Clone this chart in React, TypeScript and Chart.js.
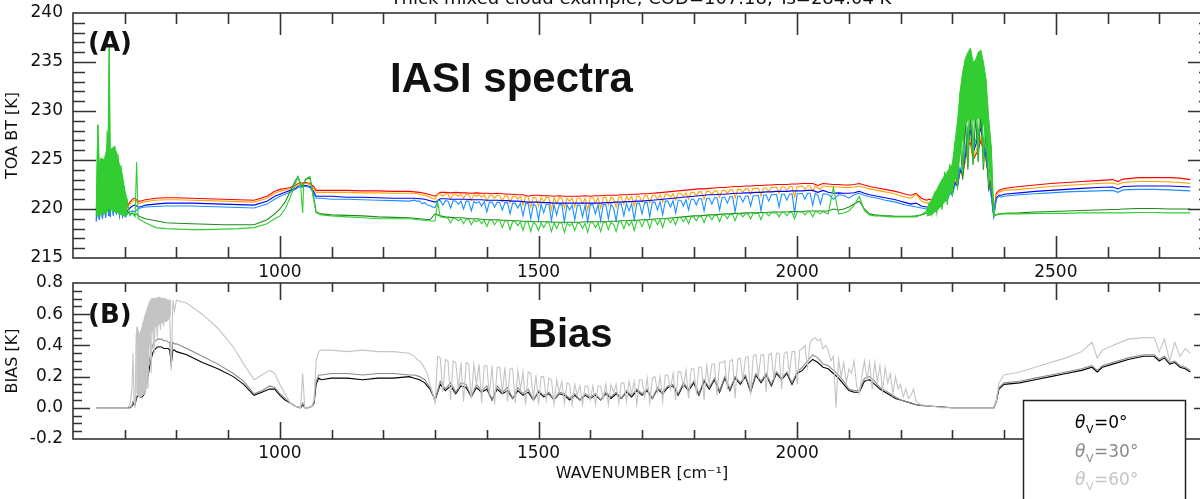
import React, { useEffect, useRef } from "react";
import { Chart, registerables } from "chart.js";
Chart.register(...registerables);

// ---------- Panel A: TOA brightness temperature spectra ----------
// coarse grid (smooth series)
const WN_A = [
  645,648,651,654,657,660,663,666,669,670,672,675,678,681,684,687,690,693,696,699,702,705,710,715,720,723,726,730,
  740,760,780,800,830,860,890,920,950,975,990,1000,1010,1020,1030,1035,1040,1044,1046,1050,1058,1065,1070,
  1080,1100,1130,1160,1190,1220,1250,
  1260,1270,1280,1290,1300,1310,1320,1330,1340,1350,
  1360,1370,1380,1390,1400,1410,1420,1430,1440,1450,
  1460,1470,1480,1490,1500,1510,1520,1530,1540,1550,
  1560,1570,1580,1590,1600,1610,1620,1630,1640,1650,
  1660,1670,1680,1690,1700,1710,1720,1730,1740,1750,
  1760,1770,1780,1790,1800,1810,1820,1830,1840,1850,
  1860,1870,1880,1890,1900,1910,1920,1930,1940,1950,
  1960,1970,1980,1990,2000,2010,2020,2030,2040,2050,
  2060,2070,2080,2090,2100,2110,2120,2130,2140,2150,2160,2170,2180,2190,2200,2210,2220,2230,2240,2250,
  2255,2260,2265,2270,2275,2280,2285,2290,2295,2300,2305,2310,2315,2320,2325,2330,2335,2340,2345,2350,2355,2360,2365,2370,2375,2380,2385,2390,
  2395,2400,2430,2460,2490,2520,2550,2580,2610,2620,2630,2660,2690,2720,2740,2760,
];

// fine grid (spiky series)
const WN_A_FINE = [
  645,648,651,654,657,660,663,666,669,670,672,675,678,681,684,687,690,693,696,699,702,705,710,715,720,723,726,730,
  740,760,780,800,830,860,890,920,950,975,990,1000,1010,1020,1030,1035,1040,1044,1046,1050,1058,1065,1070,
  1080,1100,1130,1160,1190,1220,1250,
  1260,1265,1270,1275,1280,1285,1290,1295,1300,1305,
  1310,1315,1320,1325,1330,1335,1340,1345,1350,1355,
  1360,1365,1370,1375,1380,1385,1390,1395,1400,1405,
  1410,1415,1420,1425,1430,1435,1440,1445,1450,1455,
  1460,1465,1470,1475,1480,1485,1490,1495,1500,1505,
  1510,1515,1520,1525,1530,1535,1540,1545,1550,1555,
  1560,1565,1570,1575,1580,1585,1590,1595,1600,1605,
  1610,1615,1620,1625,1630,1635,1640,1645,1650,1655,
  1660,1665,1670,1675,1680,1685,1690,1695,1700,1705,
  1710,1715,1720,1725,1730,1735,1740,1745,1750,1755,
  1760,1765,1770,1775,1780,1785,1790,1795,1800,1805,
  1810,1815,1820,1825,1830,1835,1840,1845,1850,1855,
  1860,1865,1870,1875,1880,1885,1890,1895,1900,1905,
  1910,1915,1920,1925,1930,1935,1940,1945,1950,1955,
  1960,1965,1970,1975,1980,1985,1990,1995,2000,2005,
  2010,2015,2020,2025,2030,2035,2040,2045,2050,
  2060,2070,2080,2090,2100,2110,2120,2130,2140,2150,2160,2170,2180,2190,2200,2210,2220,2230,2240,2250,
  2255,2260,2265,2270,2275,2280,2285,2290,2295,2300,2305,2310,2315,2320,2325,2330,2335,2340,2345,2350,2355,2360,2365,2370,2375,2380,2385,2390,
  2395,2400,2430,2460,2490,2520,2550,2580,2610,2620,2630,2660,2690,2720,2740,2760,
];

const BT_RED = [
  219.0,221.5,219.3,222.0,219.4,222.3,219.5,222.5,219.7,223.0,219.6,222.8,219.8,222.5,220.0,222.0,219.8,221.3,219.7,220.6,219.6,220.3,220.7,221.0,221.1,220.9,220.8,220.8,
  220.95,221.1,221.15,221.15,221.1,221.05,221.0,220.95,220.9,221.3,221.8,222.0,222.1,222.2,222.4,222.6,222.7,222.6,222.7,222.7,222.6,222.3,221.9,
  221.9,221.9,221.9,221.85,221.85,221.8,221.8,
  221.75,221.7,221.6,221.45,221.3,221.7,221.7,221.65,221.7,221.65,
  221.65,221.6,221.65,221.6,221.6,221.55,221.6,221.55,221.5,221.5,
  221.45,221.45,221.3,221.4,221.4,221.35,221.35,221.3,221.35,221.3,
  221.3,221.3,221.3,221.35,221.3,221.35,221.35,221.4,221.4,221.4,
  221.45,221.45,221.5,221.5,221.55,221.55,221.6,221.65,221.7,221.75,
  221.8,221.85,221.9,221.95,222.0,222.05,222.05,222.1,222.15,222.2,
  222.2,222.25,222.3,222.3,222.35,222.35,222.4,222.4,222.45,222.45,
  222.5,222.5,222.5,222.55,222.55,222.6,222.6,222.6,222.4,222.6,
  222.55,222.5,222.5,222.45,222.45,222.5,222.6,222.45,222.3,222.2,222.1,222.0,221.9,221.8,221.65,221.5,221.4,221.6,221.1,220.9,
  221.0,220.9,221.2,221.0,221.5,221.3,221.8,221.6,222.2,222.0,222.8,222.6,224.0,223.5,225.0,226.5,226.8,225.0,225.5,226.0,227.0,226.0,225.0,223.5,222.0,219.6,221.6,221.9,
  222.0,222.1,222.3,222.45,222.6,222.7,222.8,222.9,223.0,222.8,223.05,223.2,223.2,223.2,223.15,223.0,
];

const BT_BLUE = [
  218.8,220.8,218.9,221.2,219.0,221.5,219.1,221.8,219.3,222.3,219.2,222.0,219.4,221.8,219.5,221.2,219.4,220.6,219.3,220.0,219.3,219.8,220.1,220.3,220.4,220.3,220.2,220.2,
  220.4,220.5,220.6,220.6,220.6,220.55,220.5,220.45,220.4,220.8,221.3,221.5,221.7,221.9,222.1,222.3,222.4,222.3,222.4,222.4,222.3,221.8,221.3,
  221.3,221.3,221.2,221.2,221.15,221.1,221.1,
  221.1,221.05,221.0,220.85,220.7,221.05,221.05,221.0,221.0,221.0,
  221.0,220.95,220.95,220.95,220.9,220.9,220.9,220.85,220.85,220.8,
  220.8,220.75,220.7,220.7,220.7,220.65,220.65,220.6,220.6,220.6,
  220.6,220.6,220.6,220.6,220.6,220.6,220.6,220.65,220.65,220.7,
  220.7,220.75,220.75,220.8,220.8,220.85,220.9,220.95,221.0,221.05,
  221.1,221.15,221.2,221.25,221.3,221.35,221.4,221.45,221.45,221.5,
  221.5,221.55,221.6,221.6,221.65,221.65,221.7,221.7,221.75,221.75,
  221.8,221.8,221.8,221.85,221.85,221.85,221.9,221.9,221.7,221.9,
  221.7,221.6,221.65,221.6,221.6,221.65,221.8,221.6,221.45,221.35,221.25,221.15,221.05,220.95,220.8,220.65,220.5,220.6,220.3,220.2,
  220.1,220.0,220.3,220.2,220.7,220.5,221.2,221.0,221.8,221.6,222.6,222.4,224.0,223.5,225.5,227.8,228.0,225.8,226.5,227.5,228.2,226.8,225.5,223.0,221.5,219.3,221.1,221.4,
  221.4,221.5,221.65,221.8,221.9,222.0,222.1,222.2,222.25,222.05,222.3,222.35,222.35,222.35,222.3,222.25,
];

const BT_DARKGREEN = [
  219.3,222.0,219.5,222.5,219.6,222.8,219.6,223.0,219.8,224.0,219.7,223.5,219.8,223.0,219.9,222.5,219.8,221.5,219.7,220.8,219.5,219.8,219.5,219.6,219.4,219.5,219.3,219.2,
  219.0,218.8,218.6,218.55,218.5,218.45,218.4,218.4,218.4,218.9,219.5,220.0,220.7,221.8,222.9,223.3,222.5,222.3,222.6,223.0,223.2,221.3,219.7,
  219.5,219.4,219.35,219.3,219.2,219.15,219.1,
  219.05,219.0,218.95,218.9,219.5,219.3,219.2,219.15,219.1,219.1,
  219.05,219.0,219.0,218.95,218.9,218.9,218.9,218.85,218.85,218.8,
  218.8,218.75,218.75,218.7,218.7,218.7,218.7,218.65,218.65,218.65,
  218.65,218.65,218.65,218.7,218.7,218.7,218.7,218.7,218.75,218.75,
  218.8,218.8,218.85,218.85,218.9,218.9,218.95,219.0,219.0,219.05,
  219.1,219.15,219.2,219.25,219.3,219.3,219.35,219.4,219.4,219.45,
  219.5,219.5,219.55,219.55,219.6,219.6,219.6,219.65,219.65,219.7,
  219.7,219.7,219.7,219.75,219.75,219.75,219.8,219.8,219.8,219.8,
  219.8,220.0,219.9,220.0,220.2,220.5,220.8,220.0,219.5,219.4,219.35,219.3,219.3,219.25,219.25,219.25,219.25,219.3,219.4,219.6,
  219.8,219.6,220.5,219.9,221.2,220.3,222.0,220.8,222.8,221.5,224.0,222.3,227.0,223.0,229.0,224.0,230.0,224.5,229.5,224.8,230.0,224.0,228.0,222.0,223.0,219.3,219.4,219.5,
  219.5,219.55,219.6,219.7,219.75,219.8,219.85,219.9,219.95,219.95,220.0,220.05,220.05,220.0,220.0,220.0,
];

const BT_ORANGE = [
  218.9,221.0,219.0,221.5,219.2,221.8,219.3,222.0,219.5,222.5,219.4,222.3,219.6,222.0,219.8,221.5,219.6,220.9,219.5,220.3,219.4,220.1,220.5,220.8,220.9,220.7,220.6,220.6,
  220.75,220.9,220.95,220.95,220.9,220.85,220.8,220.75,220.7,221.1,221.6,221.8,221.95,222.1,222.3,222.5,222.6,222.5,222.6,222.6,222.5,222.1,221.7,
  221.7,221.7,221.7,221.65,221.65,221.6,221.6,
  221.6,221.55,221.5,221.4,221.45,221.3,221.2,221.1,221.0,221.5,
  221.55,221.3,221.55,221.5,221.0,221.5,221.5,221.3,221.5,221.1,
  221.5,221.45,220.9,221.45,221.3,221.45,221.2,221.45,220.8,221.4,
  221.4,221.1,221.4,221.35,220.8,221.35,221.3,220.6,221.3,221.3,
  221.0,221.3,220.4,221.25,221.25,220.2,221.2,221.1,220.3,221.2,
  220.7,221.2,221.15,219.9,221.15,220.5,221.15,221.1,220.1,221.1,
  220.8,221.1,220.2,221.1,221.1,220.5,221.1,219.9,221.15,221.15,
  220.6,221.15,220.1,221.15,221.2,220.4,221.2,221.0,220.2,221.2,
  221.25,220.5,221.25,220.9,221.3,220.3,221.3,221.3,220.7,221.35,
  221.35,220.6,221.4,221.4,221.0,221.45,220.7,221.5,221.5,221.2,
  221.55,220.9,221.6,221.6,221.3,221.65,221.0,221.7,221.7,221.4,
  221.75,221.75,221.0,221.8,221.8,221.5,221.85,221.85,221.2,221.9,
  221.9,221.6,221.95,221.95,221.1,222.0,222.0,221.7,222.05,222.05,
  221.5,222.1,222.1,222.1,221.3,222.15,222.15,221.8,222.2,222.2,
  222.25,221.6,222.25,222.25,221.9,222.3,222.3,221.2,222.3,222.3,
  222.35,222.0,222.35,222.35,221.8,222.35,222.2,222.0,222.35,
  222.3,222.25,222.25,222.2,222.2,222.25,222.35,222.2,222.05,221.95,221.85,221.75,221.65,221.5,221.35,221.2,221.1,221.5,220.8,220.6,
  220.6,220.7,220.9,220.8,221.3,221.1,221.6,221.4,222.0,221.8,222.6,222.4,223.8,223.3,225.0,226.8,227.2,225.2,225.8,226.5,227.3,226.2,225.0,223.2,221.8,219.4,221.4,221.75,
  221.8,221.9,222.0,222.15,222.3,222.4,222.5,222.6,222.65,222.5,222.7,222.8,222.8,222.75,222.7,222.6,
];

const BT_LIGHTBLUE = [
  218.7,220.3,218.9,221.0,219.0,221.3,219.1,221.8,219.3,222.5,219.2,221.8,219.3,221.5,219.4,221.0,219.3,220.4,219.2,219.8,219.2,219.5,219.7,219.8,219.7,219.9,220.0,220.1,
  220.2,220.25,220.3,220.3,220.3,220.25,220.2,220.15,220.1,220.5,221.0,221.3,221.5,221.7,222.0,222.2,222.3,222.2,222.3,222.3,222.2,221.6,221.1,
  221.1,221.0,221.0,220.95,220.9,220.85,220.8,
  220.9,220.8,220.8,220.55,220.65,220.4,220.35,220.2,220.15,220.85,
  220.85,220.4,220.85,220.8,220.1,220.85,220.8,220.5,220.8,220.0,
  220.8,220.8,219.8,220.75,220.6,220.75,220.3,220.75,219.7,220.7,
  220.7,220.2,220.7,220.65,219.9,220.65,220.65,219.5,220.6,220.6,
  220.1,220.6,219.3,220.55,220.55,219.0,220.5,220.3,218.9,220.5,
  219.6,220.5,220.5,218.8,220.45,219.4,220.45,220.45,218.7,220.45,
  219.9,220.4,218.9,220.4,220.4,219.2,220.4,218.7,220.45,220.45,
  219.5,220.45,218.8,220.45,220.45,219.0,220.5,220.1,218.8,220.5,
  220.5,219.3,220.55,219.8,220.55,218.9,220.6,220.6,219.5,220.65,
  220.65,219.2,220.7,220.7,219.9,220.75,219.4,220.8,220.8,220.2,
  220.85,219.6,220.9,220.9,220.3,220.95,219.9,221.0,221.0,220.4,
  221.05,221.05,219.8,221.1,221.1,220.5,221.15,221.15,219.9,221.2,
  221.2,220.6,221.25,221.25,219.7,221.3,221.3,220.7,221.3,221.35,
  220.3,221.35,221.35,221.4,219.8,221.4,221.45,220.8,221.45,221.45,
  221.5,220.2,221.5,221.5,220.9,221.5,221.55,219.6,221.55,221.55,
  221.6,221.0,221.6,221.6,220.4,221.6,221.4,220.5,221.55,
  221.5,221.0,221.45,221.4,221.1,221.45,221.6,221.4,221.25,221.15,221.05,220.9,220.8,220.7,220.55,220.4,220.3,220.2,220.1,220.0,
  219.9,219.8,220.2,220.0,220.6,220.4,221.0,220.8,221.6,221.4,222.5,222.3,224.2,223.6,226.0,228.4,228.6,226.2,227.0,228.0,228.8,227.0,225.8,223.0,221.3,219.2,221.0,221.3,
  221.2,221.3,221.45,221.55,221.65,221.75,221.8,221.85,221.9,221.7,221.95,222.0,222.0,221.95,221.9,221.85,
];

const BT_LIME = [
  219.4,228.6,219.3,225.2,219.8,225.0,219.5,228.0,220.5,236.5,219.6,226.2,219.8,226.4,220.3,225.6,219.9,224.5,219.6,222.3,219.4,220.8,219.3,219.6,219.2,224.8,219.0,218.9,
  218.6,218.1,218.0,217.95,217.9,217.9,217.95,218.0,218.1,218.5,219.0,219.3,220.0,221.2,222.6,223.3,222.4,219.6,222.6,223.1,223.3,221.0,219.6,
  219.4,219.3,219.2,219.1,219.0,219.0,219.0,
  218.95,218.9,218.9,218.85,218.85,218.8,218.8,218.75,218.8,220.7,
  219.2,219.15,219.1,219.05,218.6,219.05,219.0,218.8,219.0,218.5,
  218.95,218.95,218.4,218.9,218.7,218.9,218.5,218.85,218.2,218.85,
  218.85,218.4,218.8,218.8,218.1,218.8,218.75,217.9,218.75,218.7,
  218.3,218.7,217.8,218.7,218.65,217.7,218.65,218.4,217.8,218.6,
  218.1,218.6,218.6,217.7,218.6,218.0,218.6,218.55,217.6,218.55,
  218.3,218.55,217.8,218.55,218.55,218.0,218.55,217.6,218.6,218.6,
  218.1,218.6,217.7,218.6,218.65,217.9,218.65,218.4,217.7,218.7,
  218.7,218.0,218.75,218.3,218.75,217.8,218.8,218.8,218.2,218.85,
  218.85,218.0,218.9,218.9,218.4,218.95,218.1,219.0,219.0,218.6,
  219.05,218.4,219.1,219.1,218.7,219.15,218.5,219.2,219.2,218.8,
  219.25,219.25,218.6,219.3,219.3,218.9,219.35,219.35,218.7,219.4,
  219.4,219.0,219.45,219.45,218.8,219.5,219.5,219.2,219.5,219.5,
  219.0,219.55,219.55,219.55,218.9,219.6,219.6,219.3,219.6,219.6,
  219.6,219.2,219.65,219.65,219.3,219.65,219.65,219.0,219.7,219.7,
  219.7,219.4,219.7,219.7,219.2,219.75,219.7,219.5,219.75,
  219.5,222.2,219.5,219.6,219.8,220.4,221.3,219.8,219.4,219.3,219.3,219.25,219.2,219.2,219.2,219.2,219.2,219.2,219.4,219.8,
  220.6,219.4,221.5,219.6,222.6,219.9,223.8,220.4,224.6,221.3,226.8,222.2,232.0,223.5,235.3,224.5,236.4,224.8,235.2,225.0,236.2,224.5,233.3,222.5,226.5,219.3,219.4,219.5,
  219.5,219.5,219.5,219.55,219.55,219.55,219.6,219.6,219.6,219.6,219.6,219.65,219.65,219.6,219.6,219.6,
];

// dense (unresolved) green bands: upper and lower envelopes
const WN_LIME_BAND1 = [645,648,651,655,660,665,668,670,672,676,680,685,690,695,700,705];
const LIME_BAND1_HI = [219.8,228.6,224.5,225.2,225.0,226.0,228.0,236.5,226.0,226.2,226.4,225.6,224.5,223.6,222.0,220.8];
const LIME_BAND1_LO = [219.2,219.3,219.4,219.4,219.5,219.6,219.8,220.0,220.0,219.8,219.7,219.6,219.5,219.3,219.2,219.3];
const WN_LIME_BAND2 = [2250,2260,2270,2280,2290,2300,2305,2310,2315,2320,2325,2330,2335,2340,2345,2350,2355,2360,2365,2370,2375,2378,2382];
const LIME_BAND2_HI = [219.8,221.0,222.0,223.0,223.8,224.6,226.8,229.0,232.0,234.0,235.3,236.0,236.4,235.0,235.2,236.0,236.2,235.0,233.3,229.5,226.5,222.0,219.3];
const LIME_BAND2_LO = [219.2,219.4,219.8,220.3,221.0,222.0,222.8,223.5,225.5,227.0,228.5,229.0,229.2,229.0,229.0,229.2,229.2,228.5,227.0,224.5,222.5,220.5,219.3];

// ---------- Panel B: bias ----------
const WN_B = [
  645,680,705,
  710,714,716,718,720,722,724,727,730,733,736,739,742,745,748,751,754,757,760,763,766,769,772,775,778,781,784,787,790,793,796,800,
  820,850,880,910,930,950,965,980,990,1000,1010,1020,1030,1040,1044,1048,1055,1062,1066,1070,1075,1080,1100,1130,1160,1190,1220,1250,
  1260,1270,1280,1290,1300,1310,1320,1330,1340,1350,
  1360,1370,1380,1390,1400,1410,1420,1430,1440,1450,
  1460,1470,1480,1490,1500,1510,1520,1530,1540,1550,
  1560,1570,1580,1590,1600,1610,1620,1630,1640,1650,
  1660,1670,1680,1690,1700,1710,1720,1730,1740,1750,
  1760,1770,1780,1790,1800,1810,1820,1830,1840,1850,
  1860,1870,1880,1890,1900,1910,1920,1930,1940,1950,
  1960,1970,1980,1990,2000,2010,2020,2030,2040,2050,
  2060,2070,2080,2090,2100,2110,2120,2130,2140,2150,2160,2170,2180,2190,2200,2210,2220,2230,2240,
  2260,2280,2300,2340,2380,2385,2390,
  2400,2430,2460,2490,2520,2550,2570,2580,2590,2610,2640,2670,2690,2700,2710,2720,2730,2740,2750,2760,
];

const WN_B_FINE = [
  645,680,705,
  710,714,716,718,720,722,724,727,730,733,736,739,742,745,748,751,754,757,760,763,766,769,772,775,778,781,784,787,790,793,796,800,
  820,850,880,910,930,950,965,980,990,1000,1010,1020,1030,1040,1044,1048,1055,1062,1066,1070,1075,1080,1100,1130,1160,1190,1220,1250,
  1260,1265,1270,1275,1280,1285,1290,1295,1300,1305,
  1310,1315,1320,1325,1330,1335,1340,1345,1350,1355,
  1360,1365,1370,1375,1380,1385,1390,1395,1400,1405,
  1410,1415,1420,1425,1430,1435,1440,1445,1450,1455,
  1460,1465,1470,1475,1480,1485,1490,1495,1500,1505,
  1510,1515,1520,1525,1530,1535,1540,1545,1550,1555,
  1560,1565,1570,1575,1580,1585,1590,1595,1600,1605,
  1610,1615,1620,1625,1630,1635,1640,1645,1650,1655,
  1660,1665,1670,1675,1680,1685,1690,1695,1700,1705,
  1710,1715,1720,1725,1730,1735,1740,1745,1750,1755,
  1760,1765,1770,1775,1780,1785,1790,1795,1800,1805,
  1810,1815,1820,1825,1830,1835,1840,1845,1850,1855,
  1860,1865,1870,1875,1880,1885,1890,1895,1900,1905,
  1910,1915,1920,1925,1930,1935,1940,1945,1950,1955,
  1960,1965,1970,1975,1980,1985,1990,1995,2000,2005,
  2010,2015,2020,2025,2030,2035,2040,2045,2050,2055,
  2060,2065,2070,2075,2080,2085,2090,2095,2100,2105,
  2110,2115,2120,2125,2130,2135,2140,2145,2150,2155,
  2160,2165,2170,2175,2180,2185,2190,2195,2200,2205,
  2210,2215,2220,2225,2230,2235,2240,
  2260,2280,2300,2340,2380,2385,2390,
  2400,2430,2460,2490,2520,2550,2570,2580,2590,2610,2640,2670,2690,2700,2710,2720,2730,2740,2750,2760,
];

const BIAS_0 = [
  0,0,0,
  0.0,0.01,0.03,0.02,0.02,0.05,0.07,0.08,0.07,0.07,0.08,0.10,0.15,0.20,0.26,0.31,0.35,0.37,0.38,0.39,0.39,0.39,0.39,0.38,0.38,0.38,0.38,0.37,0.28,0.37,0.37,0.36,
  0.34,0.29,0.25,0.20,0.15,0.08,0.10,0.12,0.12,0.08,0.05,0.03,0.01,0.0,0.02,0.0,0.0,0.01,0.03,0.15,0.19,0.18,0.19,0.19,0.18,0.19,0.19,0.20,
  0.19,0.18,0.16,0.12,0.05,0.15,0.11,0.14,0.09,0.14,
  0.13,0.07,0.13,0.10,0.12,0.05,0.12,0.09,0.11,0.06,
  0.11,0.08,0.10,0.05,0.10,0.07,0.09,0.05,0.09,0.08,
  0.05,0.08,0.05,0.08,0.06,0.08,0.05,0.09,0.06,0.09,
  0.06,0.10,0.07,0.11,0.08,0.11,0.06,0.12,0.09,0.13,
  0.14,0.08,0.15,0.11,0.16,0.08,0.17,0.12,0.18,0.10,
  0.19,0.11,0.19,0.15,0.20,0.10,0.21,0.16,0.21,0.14,
  0.22,0.18,0.22,0.15,0.22,0.24,0.28,0.31,0.29,0.26,
  0.25,0.22,0.19,0.15,0.11,0.10,0.10,0.17,0.18,0.15,0.12,0.10,0.08,0.06,0.05,0.04,0.03,0.02,0.015,
  0.01,0.005,0.0,0.0,0.0,0.04,0.12,
  0.15,0.16,0.18,0.20,0.22,0.24,0.26,0.23,0.26,0.28,0.31,0.33,0.33,0.30,0.32,0.28,0.29,0.26,0.25,0.23,
];

const BIAS_30 = [
  0,0,0,
  0.0,0.01,0.04,0.03,0.02,0.06,0.08,0.09,0.08,0.08,0.09,0.12,0.18,0.24,0.31,0.36,0.40,0.42,0.43,0.44,0.44,0.44,0.44,0.43,0.43,0.43,0.42,0.42,0.30,0.42,0.41,0.41,
  0.38,0.33,0.28,0.22,0.17,0.09,0.11,0.14,0.13,0.09,0.06,0.03,0.01,0.0,0.03,0.0,0.0,0.01,0.04,0.17,0.21,0.21,0.22,0.22,0.21,0.22,0.22,0.21,
  0.21,0.20,0.18,0.13,0.05,0.17,0.12,0.16,0.10,0.16,
  0.15,0.07,0.15,0.11,0.14,0.05,0.14,0.10,0.13,0.06,
  0.13,0.09,0.12,0.05,0.11,0.08,0.10,0.05,0.10,0.09,
  0.06,0.09,0.05,0.09,0.07,0.09,0.05,0.10,0.07,0.10,
  0.06,0.11,0.08,0.12,0.09,0.12,0.06,0.13,0.10,0.14,
  0.15,0.09,0.16,0.12,0.17,0.09,0.18,0.13,0.19,0.11,
  0.20,0.12,0.20,0.16,0.21,0.11,0.22,0.17,0.22,0.15,
  0.23,0.19,0.23,0.16,0.23,0.26,0.30,0.34,0.32,0.28,
  0.27,0.24,0.21,0.17,0.12,0.11,0.11,0.19,0.20,0.17,0.13,0.11,0.09,0.07,0.05,0.04,0.03,0.02,0.015,
  0.01,0.005,0.0,0.0,0.0,0.04,0.13,
  0.16,0.17,0.19,0.21,0.23,0.25,0.27,0.24,0.27,0.29,0.32,0.34,0.34,0.31,0.33,0.29,0.30,0.27,0.26,0.24,
];

const BIAS_60 = [
  0,0,0,
  0.02,0.12,0.35,0.05,0.0,0.45,0.52,0.10,0.47,0.08,0.55,0.09,0.62,0.12,0.68,0.22,0.70,0.35,0.70,0.45,0.71,0.50,0.70,0.52,0.70,0.55,0.69,0.58,0.24,0.69,0.62,0.69,
  0.67,0.60,0.51,0.39,0.28,0.18,0.21,0.24,0.22,0.15,0.09,0.03,0.01,0.0,0.22,0.0,0.0,0.01,0.05,0.30,0.36,0.37,0.37,0.36,0.37,0.36,0.36,0.35,
  0.33,0.31,0.30,0.28,0.25,0.22,0.15,0.10,0.03,0.33,
  0.32,0.10,0.31,0.30,0.05,0.30,0.29,0.12,0.29,0.04,
  0.29,0.28,0.06,0.28,0.15,0.28,0.03,0.27,0.27,0.08,
  0.27,0.02,0.26,0.26,0.10,0.26,0.04,0.25,0.25,0.03,
  0.24,0.12,0.23,0.02,0.23,0.22,0.06,0.21,0.02,0.20,
  0.20,0.05,0.19,0.18,0.02,0.18,0.10,0.17,0.03,0.16,
  0.15,0.02,0.15,0.08,0.14,0.02,0.14,0.14,0.05,0.14,
  0.02,0.14,0.14,0.06,0.15,0.02,0.15,0.10,0.15,0.03,
  0.16,0.16,0.04,0.17,0.09,0.17,0.02,0.18,0.18,0.07,
  0.19,0.03,0.19,0.20,0.10,0.20,0.04,0.21,0.21,0.12,
  0.22,0.05,0.23,0.23,0.13,0.24,0.06,0.25,0.25,0.10,
  0.26,0.26,0.05,0.27,0.15,0.28,0.28,0.08,0.29,0.29,
  0.30,0.12,0.30,0.31,0.06,0.31,0.32,0.17,0.32,0.33,
  0.08,0.33,0.34,0.20,0.34,0.34,0.10,0.34,0.35,0.18,
  0.35,0.35,0.12,0.35,0.36,0.22,0.36,0.36,0.15,0.37,
  0.38,0.40,0.26,0.42,0.44,0.45,0.43,0.44,0.38,0.40,
  0.37,0.30,0.33,0.0,0.31,0.20,0.29,0.16,0.25,0.22,
  0.30,0.14,0.09,0.20,0.30,0.18,0.29,0.12,0.29,0.17,
  0.27,0.11,0.26,0.16,0.22,0.09,0.20,0.12,0.15,0.07,
  0.12,0.06,0.08,0.12,0.04,0.03,0.02,
  0.01,0.0,0.0,0.0,0.0,0.05,0.16,
  0.21,0.23,0.26,0.29,0.32,0.36,0.42,0.32,0.37,0.40,0.44,0.45,0.45,0.36,0.44,0.30,0.42,0.33,0.38,0.35,
];

// dense light-grey band (60°) near 720-790 cm-1
const WN_GREY_BAND = [722,724,728,732,736,740,744,748,752,756,760,766,772,778,784,788,790];
const GREY_BAND_HI = [0.45,0.52,0.47,0.50,0.55,0.60,0.64,0.68,0.70,0.70,0.70,0.71,0.70,0.70,0.69,0.69,0.69];
const GREY_BAND_LO = [0.10,0.08,0.07,0.07,0.08,0.10,0.14,0.40,0.48,0.50,0.52,0.53,0.54,0.55,0.56,0.58,0.60];

// ---------- axes / labels ----------
const X_TICKS = [1000, 1500, 2000, 2500];
const Y_TICKS_A = [215, 220, 225, 230, 235, 240];
const Y_TICKS_B = [-0.2, 0.0, 0.2, 0.4, 0.6, 0.8];
const TITLE = "Thick mixed cloud example, COD=107.18, Ts=284.04 K";
const LEGEND_LABELS = ["=0°", "=30°", "=60°"];
const LEGEND_COLORS = ["#000000", "#8a8a8a", "#c4c4c4"];

const FONT = '"DejaVu Sans", sans-serif';

function pts(xs: number[], ys: number[]) {
  if (xs.length !== ys.length) throw new Error("length mismatch " + xs.length + " vs " + ys.length);
  return xs.map((x, i) => ({ x, y: ys[i] }));
}

function framePlugin(o: { xMinor: number; xMajor: number; xMaj: number; xMin: number; yMinor: number; yMajor: number; yMaj: number; yMin: number }) {
  return {
    id: "frame",
    afterDatasetsDraw(chart: any) {
      const { ctx, chartArea: a, scales } = chart;
      const xs = scales.x, ys = scales.y;
      ctx.save();
      ctx.strokeStyle = "#333";
      ctx.lineWidth = 1.6;
      ctx.strokeRect(a.left, a.top, a.right - a.left, a.bottom - a.top);
      ctx.beginPath();
      const n0 = Math.ceil(xs.min / o.xMinor + 1e-6), n1 = Math.floor(xs.max / o.xMinor - 1e-6);
      for (let n = n0; n <= n1; n++) {
        const v = n * o.xMinor;
        const major = Math.abs(v / o.xMajor - Math.round(v / o.xMajor)) < 1e-6;
        const L = major ? o.xMaj : o.xMin;
        const p = Math.round(xs.getPixelForValue(v)) + 0.5;
        ctx.moveTo(p, a.bottom); ctx.lineTo(p, a.bottom - L);
        ctx.moveTo(p, a.top); ctx.lineTo(p, a.top + L);
      }
      const m0 = Math.ceil(ys.min / o.yMinor + 1e-6), m1 = Math.floor(ys.max / o.yMinor - 1e-6);
      for (let m = m0; m <= m1; m++) {
        const v = m * o.yMinor;
        const major = Math.abs(v / o.yMajor - Math.round(v / o.yMajor)) < 1e-6;
        const L = major ? o.yMaj : o.yMin;
        const p = Math.round(ys.getPixelForValue(v)) + 0.5;
        ctx.moveTo(a.left, p); ctx.lineTo(a.left + L, p);
        ctx.moveTo(a.right, p); ctx.lineTo(a.right - L, p);
      }
      ctx.stroke();
      ctx.restore();
    },
  };
}

export default function App() {
  const topRef = useRef<HTMLCanvasElement>(null);
  const botRef = useRef<HTMLCanvasElement>(null);

  useEffect(() => {
    const line = (label: string, xs: number[], ys: number[], color: string, order: number) => ({
      label, data: pts(xs, ys), borderColor: color, backgroundColor: color, borderWidth: 1.1, pointRadius: 0, tension: 0, order, fill: false,
    });
    const bandHi = (label: string, xs: number[], ys: number[], color: string, order: number) => ({
      label, data: pts(xs, ys), borderColor: color, backgroundColor: color, borderWidth: 1, pointRadius: 0, tension: 0, order, fill: "+1",
    });
    const bandLo = (label: string, xs: number[], ys: number[], color: string, order: number) => ({
      label, data: pts(xs, ys), borderColor: color, backgroundColor: color, borderWidth: 0, pointRadius: 0, tension: 0, order, fill: false,
    });
    const tickFont = { family: FONT, size: 17 };
    const xTickCb = (v: any) => String(v);

    const annotA = {
      id: "annotA",
      afterDraw(chart: any) {
        const ctx = chart.ctx;
        ctx.save();
        ctx.fillStyle = "#111";
        ctx.textBaseline = "alphabetic";
        ctx.font = `18px ${FONT}`;
        ctx.textAlign = "center";
        ctx.fillText(TITLE, 641, 4);
        ctx.textAlign = "left";
        ctx.font = `bold 26px ${FONT}`;
        ctx.fillText("(A)", 88, 51);
        ctx.font = 'bold 42px "Liberation Sans", Arial, sans-serif';
        ctx.fillText("IASI spectra", 390, 92);
        ctx.restore();
      },
    };

    const annotB = {
      id: "annotB",
      afterDraw(chart: any) {
        const ctx = chart.ctx;
        ctx.save();
        ctx.fillStyle = "#111";
        ctx.textBaseline = "alphabetic";
        ctx.textAlign = "left";
        ctx.font = `bold 26px ${FONT}`;
        ctx.fillText("(B)", 88, 55);
        ctx.font = 'bold 40px "Liberation Sans", Arial, sans-serif';
        ctx.fillText("Bias", 528, 79);
        // legend box
        ctx.fillStyle = "#fff";
        ctx.fillRect(1023, 132, 162, 120);
        ctx.strokeStyle = "#222";
        ctx.lineWidth = 1.5;
        ctx.strokeRect(1023.5, 132.5, 162, 120);
        LEGEND_LABELS.forEach((t, i) => {
          const y = 160 + i * 28.5;
          ctx.fillStyle = LEGEND_COLORS[i];
          ctx.font = `italic 17px ${FONT}`;
          ctx.fillText("θ", 1075, y);
          ctx.font = `11px ${FONT}`;
          ctx.fillText("V", 1086, y + 5);
          ctx.font = `17px ${FONT}`;
          ctx.fillText(t, 1094, y);
        });
        ctx.restore();
      },
    };

    const top = new Chart(topRef.current as HTMLCanvasElement, {
      type: "line",
      data: {
        datasets: [
          line("lime", WN_A_FINE, BT_LIME, "#32cd32", 0),
          bandHi("limeBand1Hi", WN_LIME_BAND1, LIME_BAND1_HI, "#32cd32", 0),
          bandLo("limeBand1Lo", WN_LIME_BAND1, LIME_BAND1_LO, "#32cd32", 0),
          bandHi("limeBand2Hi", WN_LIME_BAND2, LIME_BAND2_HI, "#32cd32", 0),
          bandLo("limeBand2Lo", WN_LIME_BAND2, LIME_BAND2_LO, "#32cd32", 0),
          line("darkgreen", WN_A, BT_DARKGREEN, "#1f8a1f", 1),
          line("lightblue", WN_A_FINE, BT_LIGHTBLUE, "#1e90ff", 2),
          line("blue", WN_A, BT_BLUE, "#0000ff", 3),
          line("orange", WN_A_FINE, BT_ORANGE, "#ffa500", 4),
          line("red", WN_A, BT_RED, "#ff0000", 5),
        ] as any,
      },
      options: {
        animation: false,
        responsive: false,
        devicePixelRatio: 1,
        layout: { padding: { top: 13, right: 19, left: 0, bottom: 0 } },
        plugins: { legend: { display: false }, tooltip: { enabled: false }, title: { display: false } },
        scales: {
          x: {
            type: "linear", min: 600, max: 2800,
            afterBuildTicks: (s: any) => { s.ticks = X_TICKS.map((v) => ({ value: v })); },
            afterFit: (s: any) => { s.height = 22; s.paddingLeft = 0; s.paddingRight = 0; },
            grid: { display: false, drawTicks: false }, border: { display: false },
            ticks: { font: tickFont, color: "#111", padding: 4, maxRotation: 0, autoSkip: false, callback: xTickCb },
          },
          y: {
            type: "linear", min: 215, max: 240,
            afterBuildTicks: (s: any) => { s.ticks = Y_TICKS_A.map((v) => ({ value: v })); },
            afterFit: (s: any) => { s.width = 73; s.paddingTop = 0; s.paddingBottom = 0; },
            grid: { display: false, drawTicks: false }, border: { display: false },
            ticks: { font: tickFont, color: "#111", padding: 10, autoSkip: false, callback: xTickCb },
            title: { display: true, text: "TOA BT [K]", font: { family: FONT, size: 16 }, color: "#111", padding: { top: 3, bottom: 0 } },
          },
        },
      } as any,
      plugins: [framePlugin({ xMinor: 100, xMajor: 500, xMaj: 22, xMin: 11, yMinor: 1, yMajor: 5, yMaj: 23, yMin: 12 }), annotA],
    });

    const bot = new Chart(botRef.current as HTMLCanvasElement, {
      type: "line",
      data: {
        datasets: [
          line("60", WN_B_FINE, BIAS_60, "#c4c4c4", 0),
          bandHi("greyBandHi", WN_GREY_BAND, GREY_BAND_HI, "#c4c4c4", 0),
          bandLo("greyBandLo", WN_GREY_BAND, GREY_BAND_LO, "#c4c4c4", 0),
          line("30", WN_B, BIAS_30, "#8a8a8a", 1),
          line("0", WN_B, BIAS_0, "#000000", 2),
        ] as any,
      },
      options: {
        animation: false,
        responsive: false,
        devicePixelRatio: 1,
        layout: { padding: { top: 15, right: 19, left: 0, bottom: 0 } },
        plugins: { legend: { display: false }, tooltip: { enabled: false }, title: { display: false } },
        scales: {
          x: {
            type: "linear", min: 600, max: 2800,
            afterBuildTicks: (s: any) => { s.ticks = X_TICKS.map((v) => ({ value: v })); },
            afterFit: (s: any) => { s.height = 60; s.paddingLeft = 0; s.paddingRight = 0; },
            grid: { display: false, drawTicks: false }, border: { display: false },
            ticks: { font: tickFont, color: "#111", padding: 4, maxRotation: 0, autoSkip: false, callback: xTickCb },
            title: { display: true, text: "WAVENUMBER [cm⁻¹]", font: { family: FONT, size: 16 }, color: "#111", padding: { top: 0, bottom: 16 } },
          },
          y: {
            type: "linear", min: -0.2, max: 0.8,
            afterBuildTicks: (s: any) => { s.ticks = Y_TICKS_B.map((v) => ({ value: v })); },
            afterFit: (s: any) => { s.width = 73; s.paddingTop = 0; s.paddingBottom = 0; },
            grid: { display: false, drawTicks: false }, border: { display: false },
            ticks: { font: tickFont, color: "#111", padding: 10, autoSkip: false, callback: (v: any) => Number(v).toFixed(1) },
            title: { display: true, text: "BIAS [K]", font: { family: FONT, size: 16 }, color: "#111", padding: { top: 3, bottom: 0 } },
          },
        },
      } as any,
      plugins: [framePlugin({ xMinor: 100, xMajor: 500, xMaj: 17, xMin: 9, yMinor: 0.05, yMajor: 0.2, yMaj: 17, yMin: 9 }), annotB],
    });

    return () => { top.destroy(); bot.destroy(); };
  }, []);

  return (
    <div style={{ position: "fixed", left: 0, top: 0, width: 1200, height: 499, overflow: "hidden", background: "#fff" }}>
      <canvas ref={topRef} width={1230} height={280} style={{ position: "absolute", left: 0, top: 0, width: 1230, height: 280 }} />
      <canvas ref={botRef} width={1230} height={231} style={{ position: "absolute", left: 0, top: 268, width: 1230, height: 231 }} />
    </div>
  );
}
